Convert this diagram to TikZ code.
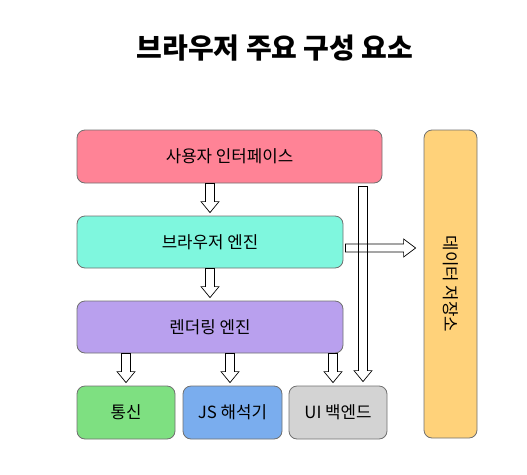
\documentclass[tikz,border=0pt]{standalone}
\usepackage{fontspec}
\setmainfont{Noto Sans CJK KR}
\usetikzlibrary{calc}
\definecolor{cui}{HTML}{FF8396}
\definecolor{cbe}{HTML}{7FF7DE}
\definecolor{cre}{HTML}{B9A0EE}
\definecolor{cnet}{HTML}{7EE081}
\definecolor{cjs}{HTML}{7AADEE}
\definecolor{cub}{HTML}{D3D3D3}
\definecolor{cds}{HTML}{FFD27A}
\definecolor{cedge}{HTML}{707070}
\tikzset{
  comp/.style={draw=cedge, line width=0.8pt, rounded corners=8pt, font=\fontsize{16.8}{20}\selectfont, inner sep=0pt},
  blockarrow/.style={draw=black, line width=0.7pt, line join=miter},
}
% vertical block arrow: start point #1, tip point #2 (tip below start)
\newcommand{\varrowblk}[2]{%
  \draw[blockarrow] let \p1=#1, \p2=#2 in
    (\x1-4.5pt,\y1) -- (\x1-4.5pt,\y2+11pt) -- (\x1-9pt,\y2+11pt) -- (\x1,\y2)
    -- (\x1+9pt,\y2+11pt) -- (\x1+4.5pt,\y2+11pt) -- (\x1+4.5pt,\y1) -- cycle;}
% horizontal block arrow: start #1, tip #2 (tip to the right)
\newcommand{\harrowblk}[2]{%
  \draw[blockarrow] let \p1=#1, \p2=#2 in
    (\x1,\y1+4pt) -- (\x2-12pt,\y1+4pt) -- (\x2-12pt,\y1+9pt) -- (\x2,\y1)
    -- (\x2-12pt,\y1-9pt) -- (\x2-12pt,\y1-4pt) -- (\x1,\y1-4pt) -- cycle;}
\begin{document}
\begin{tikzpicture}[x=1pt,y=-1pt]
\useasboundingbox (0,0) rectangle (527,474);
\node[font=\fontsize{28}{33}\selectfont\bfseries] (title) at (275,48) {브라우저 주요 구성 요소};
\node[comp, fill=cui, minimum width=305pt, minimum height=53pt] (ui) at (229.5,156.5) {사용자 인터페이스};
\node[comp, fill=cbe, minimum width=266pt, minimum height=52pt] (be) at (210,242) {브라우저 엔진};
\node[comp, fill=cre, minimum width=266pt, minimum height=52pt] (re) at (210,327) {렌더링 엔진};
\node[comp, fill=cnet, minimum width=98pt, minimum height=53pt] (net) at (126,412.5) {통신};
\node[comp, fill=cjs, minimum width=99pt, minimum height=53pt] (js) at (232.5,412.5) {JS 해석기};
\node[comp, fill=cub, minimum width=98pt, minimum height=53pt] (ub) at (338,412.5) {UI 백엔드};
\node[comp, fill=cds, minimum width=53pt, minimum height=308pt] (ds) at (450.5,284) {};
\node[rotate=-90, font=\fontsize{16.8}{20}\selectfont] (dslabel) at (ds.center) {데이터 저장소};
% arrows
\varrowblk{(ui.south -| be.center)}{($(be.north)+(0,-3)$)}
\varrowblk{(be.south)}{($(re.north)+(0,-3)$)}
\varrowblk{(re.south -| net.center)}{($(net.north)+(0,-3)$)}
\varrowblk{($(re.south -| js.center)+(-2.5,0)$)}{($(js.north)+(0,-3)$)}
\varrowblk{($(re.south -| ub.center)+(-5,0)$)}{($(ub.north)+(0,-3)$)}
\varrowblk{($(ui.south)+(133.5,3)$)}{($(ub.north)+(25,-4)$)}
\harrowblk{($(be.east)+(2,6)$)}{($(ds.west)+(-8,0)$)}
\end{tikzpicture}
\end{document}
